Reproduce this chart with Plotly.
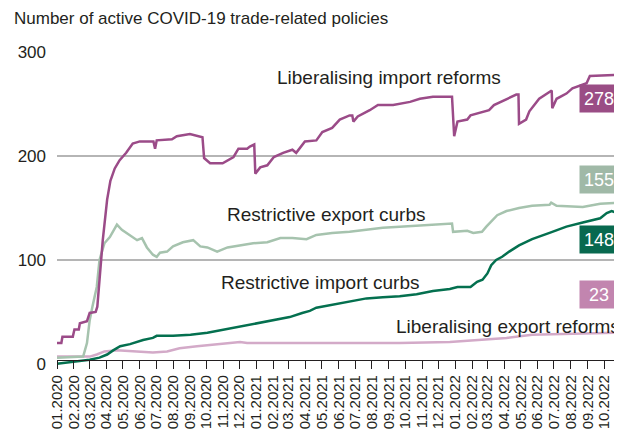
import plotly.graph_objects as go

# ---------------- data ----------------
lib_import_dates = ["2020-01-01","2020-01-09","2020-01-11","2020-01-30","2020-02-02","2020-02-10","2020-02-12","2020-02-25",
    "2020-03-01","2020-03-12","2020-03-15","2020-03-19","2020-03-25","2020-04-02","2020-04-08","2020-04-16","2020-04-25",
    "2020-05-07","2020-05-19","2020-06-01","2020-06-26","2020-06-29","2020-07-02","2020-07-30","2020-08-08","2020-09-01",
    "2020-09-14","2020-09-24","2020-09-27","2020-10-08","2020-10-31","2020-11-09","2020-11-20","2020-11-29","2020-12-15",
    "2020-12-20","2020-12-28","2020-12-30","2021-01-08","2021-01-21","2021-02-02","2021-02-19","2021-03-08","2021-03-15",
    "2021-03-31","2021-04-21","2021-05-02","2021-05-20","2021-06-03","2021-06-21","2021-06-26","2021-06-28","2021-07-06",
    "2021-07-28","2021-08-12","2021-09-09","2021-09-30","2021-10-10","2021-10-28","2021-11-21","2021-12-26","2021-12-30",
    "2022-01-05","2022-01-23","2022-01-29","2022-03-04","2022-03-13","2022-04-01","2022-04-23","2022-04-27","2022-04-28",
    "2022-05-11","2022-05-17","2022-06-04","2022-06-23","2022-06-27","2022-06-28","2022-07-06","2022-07-24","2022-08-04",
    "2022-08-30","2022-09-05","2022-10-26"]
lib_import_vals = [20,20,26,26,33,33,39,41,
    49,50,55,81,119,158,176,188,196,
    203,212,214,214,207,215,216,219,221,
    219,218,198,193,193,196,199,207,207,
    209,211,183,189,191,199,203,206,203,
    214,215,223,227,235,239,239,233,238,
    244,249,249,251,252,255,257,257,219,
    233,235,239,244,249,254,259,259,231,
    235,243,255,262,263,246,255,260,265,
    270,277,278]

res_export_dates = ["2020-01-01","2020-02-18","2020-02-25","2020-03-01","2020-03-06","2020-03-14","2020-03-19","2020-03-28",
    "2020-04-07","2020-04-20","2020-04-29","2020-05-14","2020-05-27","2020-06-05","2020-06-14","2020-06-25","2020-07-02",
    "2020-07-08","2020-07-21","2020-08-01","2020-08-19","2020-09-07","2020-09-20","2020-10-03","2020-10-21","2020-11-09",
    "2020-12-02","2020-12-26","2021-01-21","2021-02-02","2021-02-14","2021-03-08","2021-04-03","2021-04-21","2021-05-20",
    "2021-06-21","2021-07-22","2021-08-21","2021-09-21","2021-10-22","2021-11-21","2021-12-26","2021-12-28","2022-01-23",
    "2022-02-03","2022-02-19","2022-02-27","2022-03-08","2022-03-19","2022-04-05","2022-04-28","2022-05-22","2022-06-23",
    "2022-06-26","2022-07-06","2022-08-23","2022-09-24","2022-10-26"]
res_export_vals = [6,7,20,42,55,74,100,116,
    122,134,129,124,119,121,112,105,103,
    107,108,113,117,119,113,112,108,112,
    114,116,117,119,121,121,120,124,126,
    127,129,131,132,133,134,135,127,128,
    126,127,132,137,143,147,150,152,153,
    155,152,151,154,155]

res_import_dates = ["2020-01-01","2020-01-31","2020-02-18","2020-03-01","2020-03-19","2020-04-02","2020-04-13","2020-04-26",
    "2020-05-14","2020-05-27","2020-06-07","2020-06-25","2020-07-02","2020-08-01","2020-09-02","2020-10-03","2020-11-01",
    "2020-12-02","2021-01-03","2021-02-02","2021-03-03","2021-03-26","2021-04-09","2021-04-21","2021-05-20","2021-06-21",
    "2021-07-22","2021-08-21","2021-09-21","2021-10-22","2021-11-21","2021-12-22","2022-01-05","2022-01-29","2022-02-10",
    "2022-02-20","2022-03-01","2022-03-08","2022-03-17","2022-03-28","2022-04-10","2022-04-28","2022-05-22","2022-06-23",
    "2022-07-24","2022-08-23","2022-09-24","2022-10-06","2022-10-15","2022-10-26"]
res_import_vals = [0,2,3,4,6,9,13,17,
    19,21,23,25,27,27,28,30,33,
    36,39,42,45,49,51,54,57,60,
    63,64,65,67,70,72,74,74,79,
    81,87,95,100,103,108,114,120,126,
    132,136,140,145,147,145]

lib_export_dates = ["2020-01-01","2020-03-01","2020-03-14","2020-03-28","2020-04-20","2020-06-25","2020-07-21","2020-08-13",
    "2020-09-14","2020-10-21","2020-11-14","2020-12-02","2020-12-15","2021-02-02","2021-05-20","2021-09-21","2021-12-22",
    "2022-02-20","2022-04-05","2022-05-22","2022-07-24","2022-10-26"]
lib_export_vals = [7,7,9,12,13,11,12,15,
    17,19,20,21,20,20,20,20,21,
    23,25,28,29,30]

series_names = ["Liberalising import reforms", "Restrictive export curbs",
                "Restrictive import curbs", "Liberalising export reforms"]
end_labels = ["278", "155", "148", "23"]
y_ticks = [100, 200, 300]
title_text = "Number of active COVID-19 trade-related policies"

# ---------------- styles ----------------
C_LIB_IMP = "#9b4b88"
C_RES_EXP = "#a6c3ae"
C_RES_IMP = "#04704f"
C_LIB_EXP = "#d3aac8"
BOX_LIB_IMP = "#9a4d85"
BOX_RES_EXP = "#a0b9a7"
BOX_RES_IMP = "#08694f"
BOX_LIB_EXP = "#c285af"
TXT = "#231f20"
FONT = "Liberation Sans, Arial, sans-serif"

# the page body has an 8px margin, so the figure is sized to fit the window
W, H = 614, 430

fig = go.Figure()
fig.add_trace(go.Scatter(x=lib_export_dates, y=lib_export_vals, mode="lines",
                         line=dict(color=C_LIB_EXP, width=2.5), name=series_names[3]))
fig.add_trace(go.Scatter(x=res_export_dates, y=res_export_vals, mode="lines",
                         line=dict(color=C_RES_EXP, width=2.5), name=series_names[1]))
fig.add_trace(go.Scatter(x=res_import_dates, y=res_import_vals, mode="lines",
                         line=dict(color=C_RES_IMP, width=2.5), name=series_names[2]))
fig.add_trace(go.Scatter(x=lib_import_dates, y=lib_import_vals, mode="lines",
                         line=dict(color=C_LIB_IMP, width=2.5), name=series_names[0], yaxis="y2"))

YR = [-3, 300]
fig.update_layout(
    width=W, height=H,
    margin=dict(l=49, r=3, t=44, b=71, autoexpand=False),
    paper_bgcolor="white", plot_bgcolor="white",
    showlegend=False,
    font=dict(family=FONT, color=TXT),
    title=dict(text=title_text, x=6/W, xref="container", xanchor="left",
               y=1-10/H, yref="container", yanchor="middle",
               font=dict(size=17, family=FONT, color=TXT)),
    xaxis=dict(type="date", range=["2020-01-01", "2022-10-28 12:00"],
               dtick="M1", tick0="2020-01-01", tickformat="%m.%Y", tickangle=-90,
               ticks="outside", ticklen=8, tickcolor="#231f20", tickwidth=1,
               showline=True, linecolor="#231f20", linewidth=1,
               showgrid=False, zeroline=False,
               anchor="free", position=0.022,
               tickfont=dict(size=15, family=FONT, color=TXT), automargin=False),
    yaxis=dict(range=YR, tickvals=y_ticks, showgrid=True, gridcolor="#b5b5b5", gridwidth=1.5,
               zeroline=False, showline=False, ticks="", ticklabelstandoff=10,
               tickfont=dict(size=17, family=FONT, color=TXT), automargin=False),
    yaxis2=dict(range=YR, tickvals=[0], overlaying="y", side="left", showgrid=False,
                zeroline=False, showline=False, ticks="", ticklabelstandoff=10,
                tickfont=dict(size=17, family=FONT, color=TXT), automargin=False),
)

# series name labels
name_pos = [("2021-02-04", 275), ("2020-11-05", 144), ("2020-10-24", 78), ("2021-09-10", 35.5)]
for name, (nx, ny) in zip(series_names, name_pos):
    fig.add_annotation(x=nx, y=ny, xref="x", yref="y", text=name, showarrow=False,
                       xanchor="left", yanchor="middle",
                       font=dict(size=19, family=FONT, color=TXT))

# end value boxes
box_y = [255.3, 177.4, 119.7, 66.3]
box_c = [BOX_LIB_IMP, BOX_RES_EXP, BOX_RES_IMP, BOX_LIB_EXP]
for lab, by, bc in zip(end_labels, box_y, box_c):
    fig.add_annotation(x=1.0, y=by, xref="paper", yref="y", text=lab, showarrow=False,
                       xanchor="right", yanchor="middle", bgcolor=bc, borderpad=3,
                       width=32, height=21, align="center",
                       font=dict(size=18, family=FONT, color="white"))

fig.write_html("out.html")
